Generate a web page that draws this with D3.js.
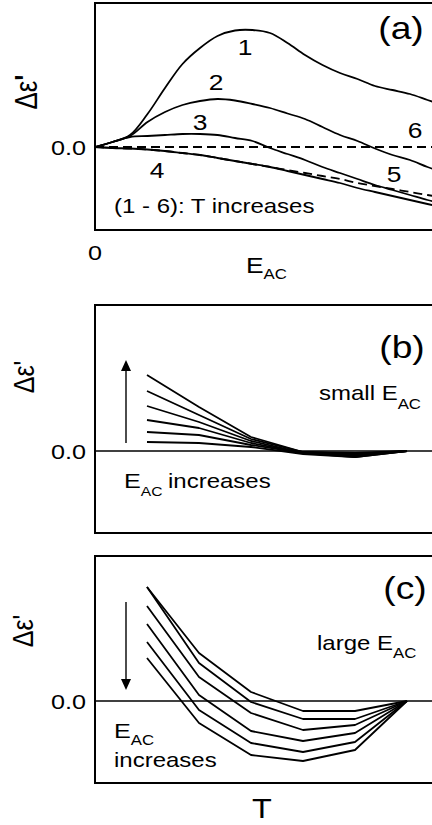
<!DOCTYPE html>
<html>
<head>
<meta charset="utf-8">
<script src="https://cdn.jsdelivr.net/npm/d3@7"></script>
<style>
  html, body { margin: 0; padding: 0; background: #fff; }
  svg { display: block; }
  text { font-family: "Liberation Sans", Arial, Helvetica, sans-serif; fill: #000; }
</style>
</head>
<body>
<svg id="chart" width="432" height="825"></svg>
<script>
// ---- Panel (a): Δε' against E_AC, one curve per temperature (1 → 6: T increases)
const eacGrid = [0, 0.5, 1, 1.5, 2, 2.5, 3, 3.5, 4, 4.5, 5, 5.5, 6, 6.5, 7, 7.5, 8, 8.5, 9, 9.5, 10];
const curveT1 = [0, 0.05, 0.12, 0.33, 0.59, 0.83, 0.99, 1.11, 1.165, 1.17, 1.14, 1.04, 0.92, 0.82, 0.74, 0.68, 0.61, 0.57, 0.53, 0.47, 0.41];
const curveT2 = [0, 0.05, 0.11, 0.25, 0.35, 0.42, 0.46, 0.48, 0.465, 0.43, 0.39, 0.335, 0.28, 0.20, 0.12, 0.06, -0.015, -0.08, -0.13, -0.20, -0.26];
const curveT3 = [0, 0.05, 0.10, 0.11, 0.12, 0.13, 0.13, 0.12, 0.09, 0.06, -0.01, -0.07, -0.13, -0.20, -0.26, -0.32, -0.38, -0.43, -0.48, -0.53, -0.57];
const curveT4 = [0, -0.01, -0.015, -0.025, -0.04, -0.06, -0.08, -0.11, -0.14, -0.17, -0.20, -0.24, -0.28, -0.32, -0.36, -0.41, -0.45, -0.49, -0.53, -0.57, -0.61];
const curveT5 = [0, -0.01, -0.015, -0.025, -0.04, -0.06, -0.08, -0.11, -0.14, -0.17, -0.20, -0.23, -0.26, -0.29, -0.32, -0.36, -0.39, -0.42, -0.45, -0.48, -0.51];
const curveT6Ends = [0, 10];
const curveT6 = [0, 0];
const curveNames = ["1", "2", "3", "4", "5", "6"];

// ---- Panels (b) and (c): Δε' against T, one polyline per E_AC value
const tempGrid = [1, 2, 3, 4, 5, 6];
const smallEacCurves = [
  [0.76, 0.44, 0.14, -0.01, -0.02, 0],
  [0.60, 0.36, 0.12, -0.01, -0.03, 0],
  [0.45, 0.29, 0.10, -0.02, -0.04, 0],
  [0.31, 0.23, 0.08, -0.02, -0.05, 0],
  [0.19, 0.16, 0.06, -0.02, -0.06, 0],
  [0.09, 0.08, 0.04, -0.03, -0.06, 0]
];
const largeEacCurves = [
  [1.14, 0.48, 0.09, -0.10, -0.10, 0],
  [1.14, 0.38, -0.01, -0.18, -0.18, 0],
  [0.95, 0.24, -0.12, -0.29, -0.24, 0],
  [0.77, 0.06, -0.30, -0.40, -0.32, 0],
  [0.59, -0.09, -0.42, -0.51, -0.41, 0],
  [0.43, -0.22, -0.54, -0.60, -0.49, 0]
];
const zeroTickLabel = "0.0";
const eacStartLabel = "0";

const svg = d3.select("#chart");
const SX = 1.2;          // horizontal stretch applied to all lettering
const LW = 1.8;          // curve stroke width
const left = 95, right = 445;

function txt(x, y, str, size, anchor) {
  return svg.append("text")
    .attr("transform", `translate(${x},${y}) scale(${SX},1)`)
    .attr("font-size", size)
    .attr("text-anchor", anchor || "start")
    .text(str);
}

// main text followed by a lowered "AC" subscript
function withSub(x, y, main, size, subSize, drop) {
  const t = svg.append("text")
    .attr("transform", `translate(${x},${y}) scale(${SX},1)`)
    .attr("font-size", size);
  t.append("tspan").text(main);
  t.append("tspan").attr("font-size", subSize).attr("dy", drop).text("AC");
  return t;
}

function frame(y) {
  const [y0, y1] = y.range();
  svg.append("rect")
    .attr("x", left).attr("y", y1)
    .attr("width", right - left).attr("height", y0 - y1)
    .attr("fill", "none").attr("stroke", "#000").attr("stroke-width", 2);
}

function yLabel(cx, cy, size, boldPrime) {
  const t = svg.append("text")
    .attr("transform", `translate(${cx},${cy}) scale(${SX},1) rotate(-90)`)
    .attr("font-size", size)
    .attr("text-anchor", "middle")
    .attr("dy", "0.35em");
  t.append("tspan").text("Δε");
  t.append("tspan").attr("font-weight", boldPrime ? "bold" : "normal").text("'");
}

function arrow(x, yFrom, yTo) {
  const dir = yTo < yFrom ? 1 : -1;
  svg.append("line")
    .attr("x1", x).attr("x2", x)
    .attr("y1", yFrom).attr("y2", yTo + dir * 8)
    .attr("stroke", "#000").attr("stroke-width", 1.4);
  svg.append("path")
    .attr("d", `M${x},${yTo} L${x - 5},${yTo + dir * 11} L${x + 5},${yTo + dir * 11} Z`)
    .attr("fill", "#000");
}

// ================= Panel (a) =================
const xA = d3.scaleLinear().domain([0, 10]).range([left, right]);
const yA = d3.scaleLinear().domain([-0.83, 1.44]).range([230, 3]);
frame(yA);

const lineA = d3.line()
  .x(d => xA(d[0]))
  .y(d => yA(d[1]))
  .curve(d3.curveCatmullRom.alpha(0.5));

[curveT1, curveT2, curveT3, curveT4].forEach(c => {
  svg.append("path")
    .datum(eacGrid.map((e, i) => [e, c[i]]))
    .attr("d", lineA)
    .attr("fill", "none").attr("stroke", "#000").attr("stroke-width", LW);
});
svg.append("path")
  .datum(eacGrid.map((e, i) => [e, curveT5[i]]))
  .attr("d", lineA)
  .attr("fill", "none").attr("stroke", "#000").attr("stroke-width", LW)
  .attr("stroke-dasharray", "9,5");
svg.append("path")
  .datum(curveT6Ends.map((e, i) => [e, curveT6[i]]))
  .attr("d", lineA)
  .attr("fill", "none").attr("stroke", "#000").attr("stroke-width", LW)
  .attr("stroke-dasharray", "9,5");

// curve numbers
const numPos = [[245, 47], [216, 82], [200, 122], [157, 170], [394, 174], [415, 130]];
curveNames.forEach((n, i) => txt(numPos[i][0], numPos[i][1] + 8, n, 22, "middle"));

txt(401, 39, "(a)", 31, "middle");
txt(114, 213, "(1 - 6): T increases", 20, "start");
txt(86, yA(0) + 7.5, zeroTickLabel, 21, "end");
txt(xA(0), 260, eacStartLabel, 21, "middle");
withSub(246, 273, "E", 22, 14, 6);
yLabel(26, 92, 26, true);

// ================= Panel (b) =================
const xT = d3.scaleLinear().domain([0, 6.7308]).range([left, right]);
const yB = d3.scaleLinear().domain([-0.82, 1.46]).range([533, 305]);
frame(yB);

svg.append("line")
  .attr("x1", left).attr("x2", right)
  .attr("y1", yB(0)).attr("y2", yB(0))
  .attr("stroke", "#000").attr("stroke-width", 1.6);

const lineB = d3.line().x((d, i) => xT(tempGrid[i])).y(d => yB(d));
smallEacCurves.forEach(c => {
  svg.append("path").attr("d", lineB(c))
    .attr("fill", "none").attr("stroke", "#000").attr("stroke-width", LW)
    .attr("stroke-linejoin", "round");
});

txt(402, 358, "(b)", 31, "middle");
withSub(319, 400, "small E", 20, 14, 9);
withSub(124, 488, "E", 21, 13, 8);
txt(168, 488, "increases", 20, "start");
txt(86, yB(0) + 7.5, zeroTickLabel, 21, "end");
arrow(126, 443, 360);
yLabel(23, 377, 25, false);

// ================= Panel (c) =================
const yC = d3.scaleLinear().domain([-0.82, 1.45]).range([783, 556]);
frame(yC);

svg.append("line")
  .attr("x1", left).attr("x2", right)
  .attr("y1", yC(0)).attr("y2", yC(0))
  .attr("stroke", "#000").attr("stroke-width", 1.6);

const lineC = d3.line().x((d, i) => xT(tempGrid[i])).y(d => yC(d));
largeEacCurves.forEach(c => {
  svg.append("path").attr("d", lineC(c))
    .attr("fill", "none").attr("stroke", "#000").attr("stroke-width", LW)
    .attr("stroke-linejoin", "round");
});

txt(405, 599, "(c)", 31, "middle");
withSub(317, 650, "large E", 20, 14, 8);
withSub(114, 738, "E", 21, 14, 7);
txt(114, 767, "increases", 20, "start");
txt(86, yC(0) + 7.5, zeroTickLabel, 21, "end");
arrow(126, 602, 690);
yLabel(22, 631, 25, false);

txt(262, 818, "T", 27, "middle");
</script>
</body>
</html>
